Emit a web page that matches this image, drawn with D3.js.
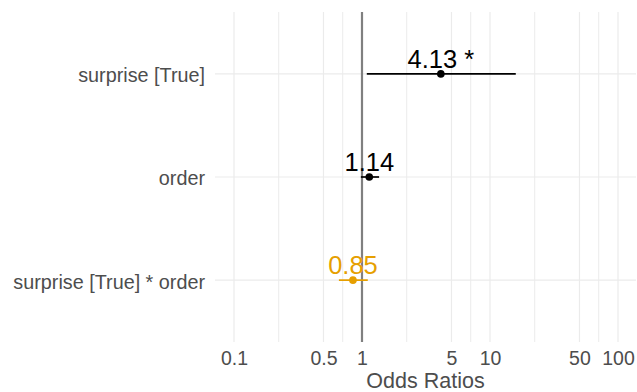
<!DOCTYPE html>
<html>
<head>
<meta charset="utf-8">
<script src="https://cdn.jsdelivr.net/npm/d3@7"></script>
<style>
  html, body { margin: 0; padding: 0; background: #fff; }
  svg { display: block; font-family: "Liberation Sans", Arial, Helvetica, sans-serif; }
</style>
</head>
<body>
<svg id="chart" width="637" height="392"></svg>
<script>
// Model terms, odds ratios and 95% confidence intervals
const terms = ["surprise [True]", "order", "surprise [True] * order"];
const estimates = [4.13, 1.14, 0.85];
const ciLow = [1.09, 0.98, 0.66];
const ciHigh = [15.9, 1.36, 1.11];
const valueLabels = ["4.13 *", "1.14", "0.85"];
const xTicks = [0.1, 0.5, 1, 5, 10, 50, 100];
const xTitle = "Odds Ratios";

const panel = { left: 215, right: 636, top: 12, bottom: 342 };

const svg = d3.select("#chart");

// Log-scaled odds-ratio axis
const x = d3.scaleLog().domain([0.1, 100]).range([234, 618]);
const y = d3.scalePoint().domain(terms).range([panel.top, panel.bottom]).padding(0.6);

// Minor breaks sit halfway (in log space) between neighbouring major breaks
const minor = [];
for (let i = 0; i < xTicks.length - 1; i++) {
  minor.push(Math.sqrt(xTicks[i] * xTicks[i + 1]));
}

const grid = svg.append("g");
grid.selectAll("line.minor").data(minor).join("line")
  .attr("class", "minor")
  .attr("x1", d => x(d)).attr("x2", d => x(d))
  .attr("y1", panel.top).attr("y2", panel.bottom)
  .attr("stroke", "#ebebeb").attr("stroke-width", 1);
grid.selectAll("line.major").data(xTicks).join("line")
  .attr("class", "major")
  .attr("x1", d => x(d)).attr("x2", d => x(d))
  .attr("y1", panel.top).attr("y2", panel.bottom)
  .attr("stroke", "#ebebeb").attr("stroke-width", 1.2);
grid.selectAll("line.row").data(terms).join("line")
  .attr("class", "row")
  .attr("x1", panel.left).attr("x2", panel.right)
  .attr("y1", d => y(d)).attr("y2", d => y(d))
  .attr("stroke", "#ebebeb").attr("stroke-width", 1.2);

// Reference line at OR = 1
svg.append("line")
  .attr("x1", x(1)).attr("x2", x(1))
  .attr("y1", panel.top).attr("y2", panel.bottom)
  .attr("stroke", "#808080").attr("stroke-width", 2.2);

// X axis (tick labels only)
const xAxis = d3.axisBottom(x).tickValues(xTicks).tickFormat(d3.format("~g")).tickSize(0).tickPadding(0);
const gx = svg.append("g").attr("transform", `translate(0,${panel.bottom})`).call(xAxis);
gx.select(".domain").remove();
gx.selectAll("text")
  .attr("y", 23).attr("dy", 0)
  .attr("fill", "#4d4d4d")
  .style("font-size", "19.5px")
  .style("font-family", "\"Liberation Sans\", Arial, sans-serif");

// Y axis (term labels only)
const yAxis = d3.axisLeft(y).tickSize(0).tickPadding(0);
const gy = svg.append("g").attr("transform", `translate(205,0)`).call(yAxis);
gy.select(".domain").remove();
gy.selectAll("text")
  .attr("x", 0).attr("dy", "0.4em")
  .attr("fill", "#4d4d4d")
  .style("font-size", "19.8px")
  .style("font-family", "\"Liberation Sans\", Arial, sans-serif");

// Estimates with confidence intervals
const rows = terms.map((t, i) => ({
  term: t, est: estimates[i], lo: ciLow[i], hi: ciHigh[i], label: valueLabels[i],
  color: estimates[i] >= 1 ? "#000000" : "#E69F00"
}));

const marks = svg.append("g");
marks.selectAll("line.ci").data(rows).join("line")
  .attr("class", "ci")
  .attr("x1", d => x(d.lo)).attr("x2", d => x(d.hi))
  .attr("y1", d => y(d.term)).attr("y2", d => y(d.term))
  .attr("stroke", d => d.color).attr("stroke-width", 1.7);
marks.selectAll("circle").data(rows).join("circle")
  .attr("cx", d => x(d.est)).attr("cy", d => y(d.term))
  .attr("r", 3.8)
  .attr("fill", d => d.color);
marks.selectAll("text").data(rows).join("text")
  .attr("x", d => x(d.est)).attr("y", d => y(d.term) - 6)
  .attr("text-anchor", "middle")
  .attr("fill", d => d.color)
  .style("font-size", "25.5px")
  .text(d => d.label);

// Axis title
svg.append("text")
  .attr("x", (panel.left + panel.right) / 2).attr("y", 388)
  .attr("text-anchor", "middle")
  .attr("fill", "#4d4d4d")
  .style("font-size", "21.5px")
  .text(xTitle);
</script>
</body>
</html>
